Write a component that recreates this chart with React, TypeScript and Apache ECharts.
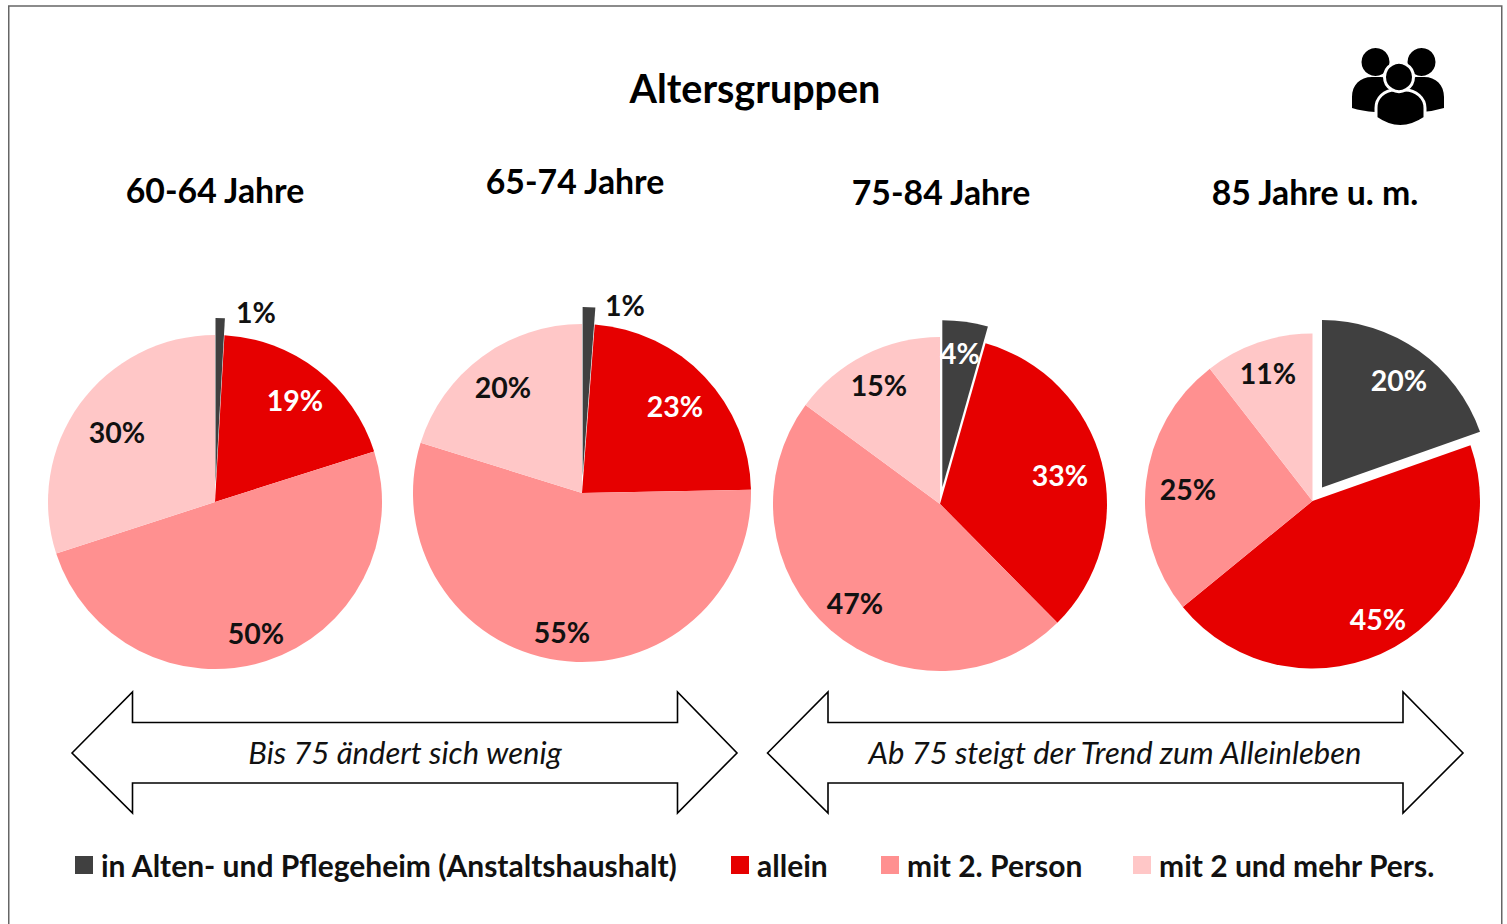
import React, { useEffect, useRef } from "react";
import * as echarts from "echarts";

const categories = ["in Alten- und Pflegeheim (Anstaltshaushalt)", "allein", "mit 2. Person", "mit 2 und mehr Pers."];
const colors = ["#404040", "#E60000", "#FF9090", "#FFC7C7"];
const pieTitles = ["60-64 Jahre", "65-74 Jahre", "75-84 Jahre", "85 Jahre u. m."];
const values6064 = [0.9, 19.2, 49.9, 30];
const values6574 = [1.2, 23.5, 55.1, 20.2];
const values7584 = [4.4, 33.2, 47.5, 14.9];
const values85 = [19.6, 44.5, 25.4, 10.5];
const labels6064 = ["1%", "19%", "50%", "30%"];
const labels6574 = ["1%", "23%", "55%", "20%"];
const labels7584 = ["4%", "33%", "47%", "15%"];
const labels85 = ["20%", "45%", "25%", "11%"];
const noteLeft = "Bis 75 ändert sich wenig";
const noteRight = "Ab 75 steigt der Trend zum Alleinleben";
const mainTitle = "Altersgruppen";

const FONT = "Lato";
const LABEL_SIZE = 28.5;

const pies = [
  { values: values6064, labels: labels6064, center: [215, 502], r: 167, offset: 17, white: [false, true, false, false],
    pos: [[256, 312], [295, 400], [256, 633], [117, 432]] },
  { values: values6574, labels: labels6574, center: [582, 493], r: 169, offset: 17, white: [false, true, false, false],
    pos: [[625, 305], [675, 406], [562, 632], [503, 387]] },
  { values: values7584, labels: labels7584, center: [940, 504], r: 167, offset: 17, white: [true, true, false, false],
    pos: [[960, 353], [1060, 475], [855, 603], [879, 385]] },
  { values: values85, labels: labels85, center: [1312.5, 501], r: 167.5, offset: 16.5, white: [true, true, false, false],
    pos: [[1399, 380], [1378, 619], [1188, 489], [1268, 373]] },
];

const titlePos = [[215, 173], [575, 164], [941, 175], [1315, 175]];
const legendLeft = [75, 731, 881, 1133];

function arrow(x0: number, x1: number, x2: number, x3: number) {
  const yMid = 753, yTop = 692, yBot = 813, sTop = 722.5, sBot = 783;
  return [
    [x0, yMid], [x1, yTop], [x1, sTop], [x2, sTop], [x2, yTop], [x3, yMid],
    [x2, yBot], [x2, sBot], [x1, sBot], [x1, yBot],
  ];
}

const sideBody = "M1352 108 V97 C1352 85 1360 77 1372 77 H1380 C1390 77 1398 85 1398 97 V116 L1375 112 Q1362 111 1352 108 Z";
const sideBodyR = "M1444 108 V97 C1444 85 1436 77 1424 77 H1417 C1407 77 1399 85 1399 97 V116 L1422 112 Q1434 111 1444 108 Z";
const midBody = "M1376 118 V108 C1376 98 1384 90 1395 90 H1405 C1416 90 1425 98 1425 108 V118 Q1400 135 1376 118 Z";

export default function App() {
  const ref = useRef<HTMLDivElement>(null);
  useEffect(() => {
    document.body.style.margin = "0";
    document.body.style.overflow = "hidden";
    echarts.graphic.registerShape("sideBody", echarts.graphic.extendPath(sideBody, {}));
    echarts.graphic.registerShape("sideBodyR", echarts.graphic.extendPath(sideBodyR, {}));
    echarts.graphic.registerShape("midBody", echarts.graphic.extendPath(midBody, {}));
    const chart = echarts.init(ref.current!, undefined, { renderer: "svg" });
    const arrowStyle = { fill: "#fff", stroke: "#000", lineWidth: 1.6, lineJoin: "miter" };
    const noteStyle = { fontFamily: FONT, fontStyle: "italic", fontSize: 31, fill: "#111", align: "center", verticalAlign: "middle" };
    chart.setOption({
      animation: false,
      backgroundColor: "#fff",
      title: [
        { text: mainTitle, left: 755, top: 67, padding: 0, textAlign: "center",
          textStyle: { fontFamily: FONT, fontWeight: "bold", fontSize: 39.5, color: "#000" } },
        ...pieTitles.map((t, i) => ({
          text: t, left: titlePos[i][0], top: titlePos[i][1], padding: 0, textAlign: "center",
          textStyle: { fontFamily: FONT, fontWeight: "bold", fontSize: 33.8, color: "#000" },
        })),
      ],
      legend: categories.map((c, i) => ({
        data: [c], left: legendLeft[i], top: 850, orient: "horizontal", selectedMode: false,
        itemWidth: 18, itemHeight: 18, itemGap: 7, icon: "rect", padding: 0,
        textStyle: { fontFamily: FONT, fontWeight: "bold", fontSize: 30, color: "#111", padding: [0, 0, 0, 3] },
      })),
      graphic: [
        { type: "rect", shape: { x: 8.75, y: 6, width: 1493, height: 940 }, style: { fill: "none", stroke: "#666", lineWidth: 1.5 }, silent: true },
        { type: "polygon", shape: { points: arrow(72, 132.5, 677.5, 737) }, style: arrowStyle, silent: true },
        { type: "polygon", shape: { points: arrow(767.5, 828, 1403, 1463) }, style: arrowStyle, silent: true },
        { type: "text", x: 405, y: 752, style: { ...noteStyle, text: noteLeft }, silent: true },
        { type: "text", x: 1115, y: 752, style: { ...noteStyle, text: noteRight }, silent: true },
        { type: "circle", shape: { cx: 1375.5, cy: 62, r: 14 }, style: { fill: "#000" }, silent: true },
        { type: "circle", shape: { cx: 1421.5, cy: 62, r: 14 }, style: { fill: "#000" }, silent: true },
        { type: "sideBody", style: { fill: "#000" }, silent: true },
        { type: "sideBodyR", style: { fill: "#000" }, silent: true },
        { type: "midBody", style: { fill: "#000", stroke: "#fff", lineWidth: 3 }, silent: true },
        { type: "circle", shape: { cx: 1399, cy: 77, r: 14.5 }, style: { fill: "#000", stroke: "#fff", lineWidth: 3 }, silent: true },
        // labels of the pulled-out slices: a selected pie slice ignores labelLayout
        ...pies.map((p) => ({
          type: "text", z: 100, silent: true, x: p.pos[0][0], y: p.pos[0][1],
          style: {
            text: p.labels[0], fontFamily: FONT, fontWeight: "bold", fontSize: LABEL_SIZE,
            fill: p.white[0] ? "#fff" : "#111", align: "center", verticalAlign: "middle",
          },
        })),
      ],
      series: pies.map((p) => ({
        type: "pie",
        center: p.center,
        radius: p.r,
        startAngle: 90,
        clockwise: true,
        selectedMode: "single",
        selectedOffset: p.offset,
        silent: true,
        avoidLabelOverlap: false,
        itemStyle: { borderWidth: 0 },
        labelLine: { show: false },
        label: { show: true, position: "inside", fontFamily: FONT, fontWeight: "bold", fontSize: LABEL_SIZE, color: "#111" },
        labelLayout: (params: any) => {
          const pos = p.pos[params.dataIndex];
          return { x: pos[0], y: pos[1], align: "center", verticalAlign: "middle" };
        },
        data: categories.map((c, i) => ({
          name: c,
          value: p.values[i],
          selected: i === 0,
          itemStyle: { color: colors[i] },
          select: { itemStyle: { color: colors[i], borderWidth: 0 } },
          label: { show: i !== 0, formatter: p.labels[i], color: p.white[i] ? "#fff" : "#111" },
        })),
      })),
    });
    return () => chart.dispose();
  }, []);
  return <div ref={ref} style={{ position: "absolute", left: 0, top: 0, width: 1507, height: 924 }} />;
}
